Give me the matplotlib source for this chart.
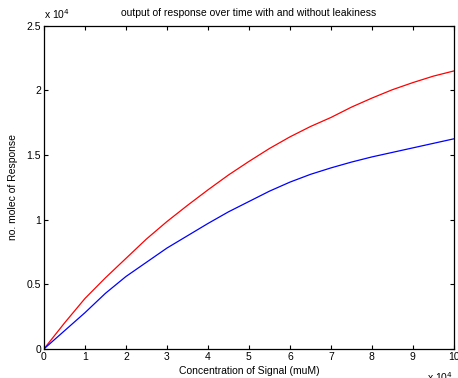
import numpy as np
import matplotlib
matplotlib.use("Agg")
import matplotlib.pyplot as plt
from matplotlib.ticker import FuncFormatter

plt.rcParams['font.family'] = ['Liberation Sans', 'DejaVu Sans']

# signal concentration (muM)
signal = [0, 5000, 10000, 15000, 20000, 25000, 30000, 35000, 40000, 45000, 50000,
          55000, 60000, 65000, 70000, 75000, 80000, 85000, 90000, 95000, 100000]
# number of response molecules, with leakiness (red) and without (blue)
resp_leaky = [0, 2000, 3900, 5500, 7000, 8500, 9850, 11100, 12300, 13450, 14500,
              15500, 16400, 17200, 17900, 18700, 19400, 20050, 20600, 21100, 21500]
resp_tight = [0, 1400, 2800, 4300, 5600, 6700, 7800, 8750, 9700, 10600, 11400,
              12200, 12900, 13500, 14000, 14450, 14850, 15200, 15550, 15900, 16250]

fig = plt.figure(figsize=(4.58, 3.78), dpi=100)
ax = fig.add_axes([0.096, 0.077, 0.895, 0.855])

ax.plot(signal, resp_leaky, color='red', lw=0.9)
ax.plot(signal, resp_tight, color='blue', lw=0.9)

ax.set_xlim(0, 100000)
ax.set_ylim(0, 25000)
ax.set_xticks(np.arange(0, 100001, 10000))
ax.set_yticks(np.arange(0, 25001, 5000))
ax.xaxis.set_major_formatter(FuncFormatter(lambda v, p: f"{v / 1e4:g}"))
ax.yaxis.set_major_formatter(FuncFormatter(lambda v, p: f"{v / 1e4:g}"))
ax.tick_params(direction='in', top=True, right=True, length=3, width=0.8,
               labelsize=7.5, pad=2)
for s in ax.spines.values():
    s.set_linewidth(0.9)

ax.set_title("output of response over time with and without leakiness",
             fontsize=7.5, pad=7)
ax.set_xlabel("Concentration of Signal (muM)", fontsize=7.5, labelpad=3)
ax.set_ylabel("no. molec of Response", fontsize=7.5, labelpad=6)

ax.text(0.0, 1.015, r"x 10$^4$", transform=ax.transAxes, fontsize=7.5,
        ha='left', va='bottom')
ax.text(0.935, -0.066, r"x 10$^4$", transform=ax.transAxes, fontsize=7.5,
        ha='left', va='top')

fig.savefig("out.png", dpi=100)
